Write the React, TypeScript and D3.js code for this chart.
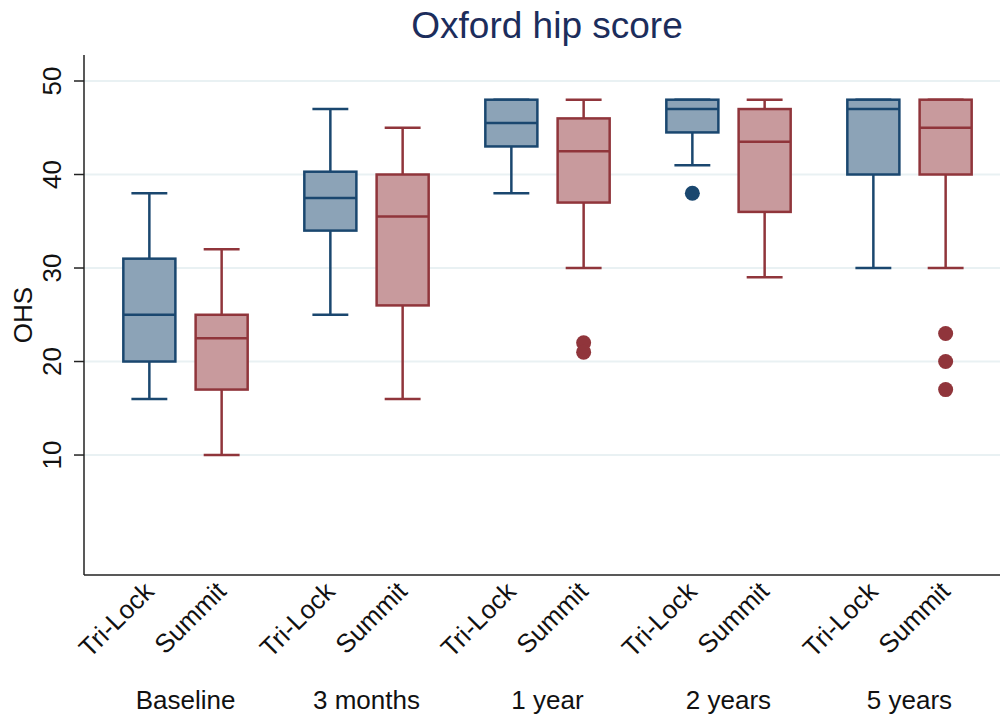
import * as d3 from "d3";

const groups = ["Baseline", "3 months", "1 year", "2 years", "5 years"];
const implants = ["Tri-Lock", "Summit"];
const yTicks = [10, 20, 30, 40, 50];

// Tri-Lock box statistics per visit
const triLockLow = [16, 25, 38, 41, 30];
const triLockQ1 = [20, 34, 43, 44.5, 40];
const triLockMedian = [25, 37.5, 45.5, 47, 47];
const triLockQ3 = [31, 40.3, 48, 48, 48];
const triLockHigh = [38, 47, 48, 48, 48];
const triLockOutliers = [[], [], [], [38], []];

// Summit box statistics per visit
const summitLow = [10, 16, 30, 29, 30];
const summitQ1 = [17, 26, 37, 36, 40];
const summitMedian = [22.5, 35.5, 42.5, 43.5, 45];
const summitQ3 = [25, 40, 46, 47, 48];
const summitHigh = [32, 45, 48, 48, 48];
const summitOutliers = [[], [], [22, 21], [], [23, 20, 17]];

const W = 1002;
const H = 722;
const left = 84;
const right = 1000;
const top = 55;
const bottom = 575;

const colors = {
  "Tri-Lock": { line: "#1a476f", fill: "#8ca3b7" },
  Summit: { line: "#90353b", fill: "#c89a9d" },
};

type Box = {
  group: string;
  implant: string;
  low: number;
  q1: number;
  med: number;
  q3: number;
  high: number;
  out: number[];
};

const boxes: Box[] = [];
groups.forEach((g, i) => {
  boxes.push({
    group: g, implant: "Tri-Lock",
    low: triLockLow[i], q1: triLockQ1[i], med: triLockMedian[i],
    q3: triLockQ3[i], high: triLockHigh[i], out: triLockOutliers[i],
  });
  boxes.push({
    group: g, implant: "Summit",
    low: summitLow[i], q1: summitQ1[i], med: summitMedian[i],
    q3: summitQ3[i], high: summitHigh[i], out: summitOutliers[i],
  });
});

const App = () => {
  const y = d3.scaleLinear().domain([-2.83, 52.78]).range([bottom, top]);
  const xGroup = d3.scaleBand<string>().domain(groups).range([95, 1000]);
  const xInner = d3
    .scalePoint<string>()
    .domain(implants)
    .range([0, xGroup.bandwidth()])
    .padding(0.752);
  const step = xInner.step();
  const boxW = step * 0.72;
  const capW = boxW * 0.69;
  const cx = (b: Box) => (xGroup(b.group) ?? 0) + (xInner(b.implant) ?? 0);

  const font = "'Liberation Sans', Arial, Helvetica, sans-serif";

  return (
    <svg
      width={W}
      height={H}
      style={{ position: "absolute", left: 0, top: 0, background: "#fff" }}
      fontFamily={font}
    >
      <rect width={W} height={H} fill="#fff" />
      <text x={547} y={38} textAnchor="middle" fontSize={37} fill="#1c2d5c">
        Oxford hip score
      </text>

      {/* gridlines */}
      {yTicks.map((t) => (
        <line key={"g" + t} x1={left} x2={right} y1={y(t)} y2={y(t)} stroke="#e9f1f3" strokeWidth={2} />
      ))}

      {/* boxes */}
      {boxes.map((b, i) => {
        const c = colors[b.implant as keyof typeof colors];
        const x = cx(b);
        return (
          <g key={i} stroke={c.line} strokeWidth={2.5}>
            <line x1={x} x2={x} y1={y(b.q3)} y2={y(b.high)} />
            <line x1={x} x2={x} y1={y(b.q1)} y2={y(b.low)} />
            <line x1={x - capW / 2} x2={x + capW / 2} y1={y(b.high)} y2={y(b.high)} />
            <line x1={x - capW / 2} x2={x + capW / 2} y1={y(b.low)} y2={y(b.low)} />
            <rect x={x - boxW / 2} width={boxW} y={y(b.q3)} height={y(b.q1) - y(b.q3)} fill={c.fill} />
            <line x1={x - boxW / 2} x2={x + boxW / 2} y1={y(b.med)} y2={y(b.med)} />
            {b.out.map((o, j) => (
              <circle key={j} cx={x} cy={y(o)} r={7.5} fill={c.line} stroke="none" />
            ))}
          </g>
        );
      })}

      {/* y axis */}
      <line x1={left} x2={left} y1={top} y2={bottom} stroke="#222" strokeWidth={1.5} />
      {yTicks.map((t) => (
        <g key={"t" + t}>
          <line x1={left - 10} x2={left} y1={y(t)} y2={y(t)} stroke="#222" strokeWidth={1.5} />
          <text
            transform={`translate(${61},${y(t)}) rotate(-90)`}
            textAnchor="middle"
            fontSize={26}
            fill="#111"
          >
            {t}
          </text>
        </g>
      ))}
      <text transform={`translate(32,${315}) rotate(-90)`} textAnchor="middle" fontSize={26} fill="#111">
        OHS
      </text>

      {/* x axis */}
      <line x1={left} x2={right} y1={bottom} y2={bottom} stroke="#222" strokeWidth={1.5} />
      {boxes.map((b, i) => (
        <text
          key={"xl" + i}
          transform={`translate(${cx(b) + 6},${593}) rotate(-45)`}
          textAnchor="end"
          fontSize={26}
          fill="#111"
        >
          {b.implant}
        </text>
      ))}
      {groups.map((g) => (
        <text
          key={"gl" + g}
          x={(xGroup(g) ?? 0) + xGroup.bandwidth() / 2}
          y={709}
          textAnchor="middle"
          fontSize={26}
          fill="#111"
        >
          {g}
        </text>
      ))}
    </svg>
  );
};

export default App;
